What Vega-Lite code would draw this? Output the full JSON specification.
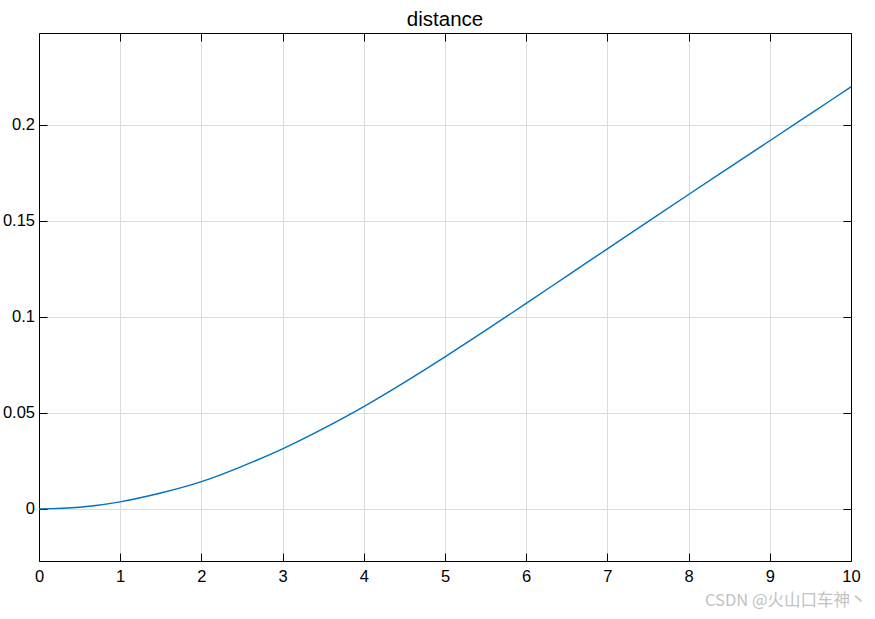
{
  "$schema": "https://vega.github.io/schema/vega-lite/v6.json",
  "autosize": {"type": "none"},
  "padding": {"left": 39, "top": 33, "right": 24, "bottom": 58},
  "width": 812,
  "height": 528,
  "background": "white",
  "view": {"stroke": null},
  "title": {
    "text": "distance",
    "font": "Liberation Sans",
    "fontSize": 20.5,
    "fontWeight": "normal",
    "color": "black",
    "anchor": "middle",
    "offset": 2
  },
  "data": {
    "values": [
      {"t": 0, "d": 0},
      {"t": 0.5, "d": 0.0009},
      {"t": 1, "d": 0.0037},
      {"t": 1.5, "d": 0.0083},
      {"t": 2, "d": 0.0142},
      {"t": 2.5, "d": 0.0222},
      {"t": 3, "d": 0.0313},
      {"t": 3.5, "d": 0.0418},
      {"t": 4, "d": 0.0533},
      {"t": 4.5, "d": 0.0659},
      {"t": 5, "d": 0.0792},
      {"t": 5.5, "d": 0.0930},
      {"t": 6, "d": 0.1071},
      {"t": 6.5, "d": 0.1213},
      {"t": 7, "d": 0.1355},
      {"t": 7.5, "d": 0.1497},
      {"t": 8, "d": 0.1638},
      {"t": 8.5, "d": 0.1778},
      {"t": 9, "d": 0.1918},
      {"t": 9.5, "d": 0.2058},
      {"t": 10, "d": 0.2198}
    ]
  },
  "resolve": {"axis": {"x": "independent", "y": "independent"}},
  "layer": [
    {
      "mark": {"type": "line", "color": "#0072BD", "strokeWidth": 1.4, "interpolate": "natural"},
      "encoding": {
        "x": {
          "field": "t", "type": "quantitative",
          "scale": {"domain": [0, 10], "nice": false, "zero": false},
          "axis": {
            "orient": "bottom",
            "values": [0, 1, 2, 3, 4, 5, 6, 7, 8, 9, 10],
            "title": "CSDN @火山口车神丶",
            "titleFont": "Noto Sans CJK SC",
            "titleFontSize": 16.5,
            "titleFontWeight": "normal",
            "titleColor": "#c2c2c2",
            "titleAnchor": "end",
            "titleAlign": "right",
            "titleBaseline": "middle",
            "titleX": 827,
            "titleY": 39,
            "grid": true,
            "gridColor": "#dcdcdc",
            "gridWidth": 1,
            "domainColor": "black",
            "domainWidth": 1,
            "ticks": true,
            "tickColor": "black",
            "tickSize": -8,
            "tickWidth": 1,
            "labelPadding": 15.5,
            "labelFont": "Liberation Sans",
            "labelFontSize": 16.5,
            "labelColor": "black",
            "labelFlush": false
          }
        },
        "y": {
          "field": "d", "type": "quantitative",
          "scale": {"domain": [-0.0271, 0.2479], "nice": false, "zero": false},
          "axis": {
            "orient": "left",
            "values": [0, 0.05, 0.1, 0.15, 0.2],
            "format": "~g",
            "title": null,
            "grid": true,
            "gridColor": "#dcdcdc",
            "gridWidth": 1,
            "domainColor": "black",
            "domainWidth": 1,
            "ticks": true,
            "tickColor": "black",
            "tickSize": -8,
            "tickWidth": 1,
            "labelPadding": 12.5,
            "labelFont": "Liberation Sans",
            "labelFontSize": 16.5,
            "labelColor": "black",
            "labelFlush": false
          }
        }
      }
    },
    {
      "mark": {"type": "line", "strokeOpacity": 0},
      "encoding": {
        "x": {
          "field": "t", "type": "quantitative",
          "axis": {
            "orient": "top",
            "values": [0, 1, 2, 3, 4, 5, 6, 7, 8, 9, 10],
            "title": null,
            "labels": false,
            "grid": false,
            "domainColor": "black",
            "domainWidth": 1,
            "tickColor": "black",
            "tickSize": -8,
            "tickWidth": 1
          }
        },
        "y": {
          "field": "d", "type": "quantitative",
          "axis": {
            "orient": "right",
            "values": [0, 0.05, 0.1, 0.15, 0.2],
            "title": null,
            "labels": false,
            "grid": false,
            "domainColor": "black",
            "domainWidth": 1,
            "tickColor": "black",
            "tickSize": -8,
            "tickWidth": 1
          }
        }
      }
    }
  ]
}
